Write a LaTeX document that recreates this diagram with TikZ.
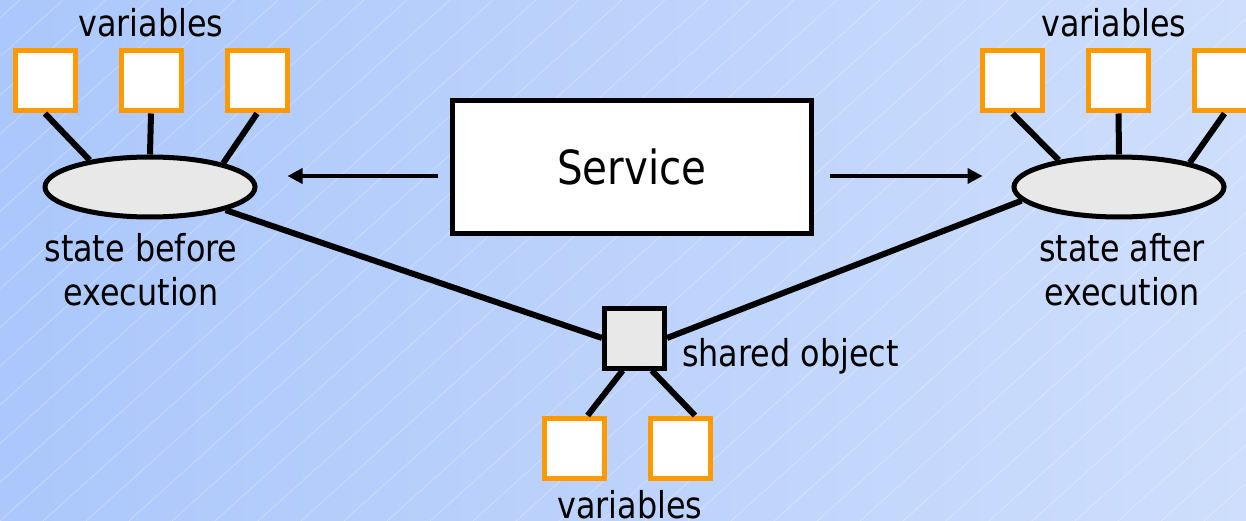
\documentclass[tikz,border=0pt]{standalone}
\usepackage{fontspec}
\setmainfont{DejaVu Sans}[FakeStretch=0.86]
\usetikzlibrary{shapes.geometric,arrows.meta}
\definecolor{bgleft}{HTML}{ABC7FB}
\definecolor{bgright}{HTML}{CEDEFC}
\definecolor{varorange}{HTML}{FF9900}
\definecolor{stategray}{HTML}{E8E8E8}

\begin{document}
\begin{tikzpicture}[x=1pt,y=-1pt,
    varbox/.style={rectangle,draw=varorange,fill=white,line width=5pt,minimum size=60pt,inner sep=0pt},
    stateshape/.style={ellipse,draw,fill=stategray,line width=5pt,minimum width=210pt,minimum height=60pt,inner sep=0pt},
    objbox/.style={rectangle,draw,fill=stategray,line width=5pt,minimum size=60pt,inner sep=0pt},
    link/.style={line width=6pt},
    flow/.style={line width=3.5pt,-{Triangle[length=15pt,width=15pt]}},
    lbl/.style={inner sep=0pt,font=\fontsize{37}{44}\selectfont,align=center},
    hatch/.style={white,opacity=0.3,line width=0.8pt}]

    \useasboundingbox (0,0) rectangle (1246,521);
    \shade[left color=bgleft,right color=bgright] (0,0) rectangle (1246,521);
    \begin{scope}
        \clip (0,0) rectangle (1246,521);
        \foreach \i in {-14,...,29}
            \draw[hatch] (\i*43,521) -- ++(600,-540);
    \end{scope}

    % before
    \node[lbl,anchor=base] (lvarlbl) at (151,37) {variables};
    \node[varbox] (lv1) at (45,81) {};
    \node[varbox] (lv2) at (151,81) {};
    \node[varbox] (lv3) at (257,81) {};
    \node[stateshape] (lstate) at (150,187) {};
    \node[lbl,anchor=north] (lstatelbl) at (141,233) {state before\\execution};

    % after
    \node[lbl,anchor=base] (rvarlbl) at (1114,37) {variables};
    \node[varbox] (rv1) at (1012.5,81) {};
    \node[varbox] (rv2) at (1118.5,81) {};
    \node[varbox] (rv3) at (1224.5,81) {};
    \node[stateshape] (rstate) at (1119,187) {};
    \node[lbl,anchor=north] (rstatelbl) at (1122,233) {state after\\execution};

    \node[draw,fill=white,line width=5pt,minimum width=359pt,minimum height=133pt,
        font=\fontsize{47}{56}\selectfont] (service) at (632,167) {Service};

    % shared object
    \node[objbox] (shared) at (634.5,338) {};
    \node[lbl,anchor=base west] (sharedlbl) at (682,366) {shared object};
    \node[varbox] (bv1) at (574.5,448) {};
    \node[varbox] (bv2) at (680.5,448) {};
    \node[lbl,anchor=base] (bvarlbl) at (630,518) {variables};

    \draw[link] (lv1.south) -- (lstate.156);
    \draw[link] (lv2.south) -- (lstate.north);
    \draw[link] (lv3.south) -- (lstate.18);
    \draw[link] (rv1.south) -- (rstate.156);
    \draw[link] (rv2.south) -- (rstate.north);
    \draw[link] (rv3.south) -- (rstate.19);
    \draw[link] (lstate.-17) -- (shared.west);
    \draw[link] (rstate.188) -- (shared.east);
    \draw[link] (shared.250) -- (bv1.68);
    \draw[link] (shared.298) -- (bv2.66);

    \draw[flow] ([xshift=-12pt,yshift=-9pt]service.west) -- ([xshift=30pt,yshift=11pt]lstate.east);
    \draw[flow] ([xshift=16pt,yshift=-9pt]service.east) -- ([xshift=-29pt,yshift=11pt]rstate.west);
\end{tikzpicture}
\end{document}
